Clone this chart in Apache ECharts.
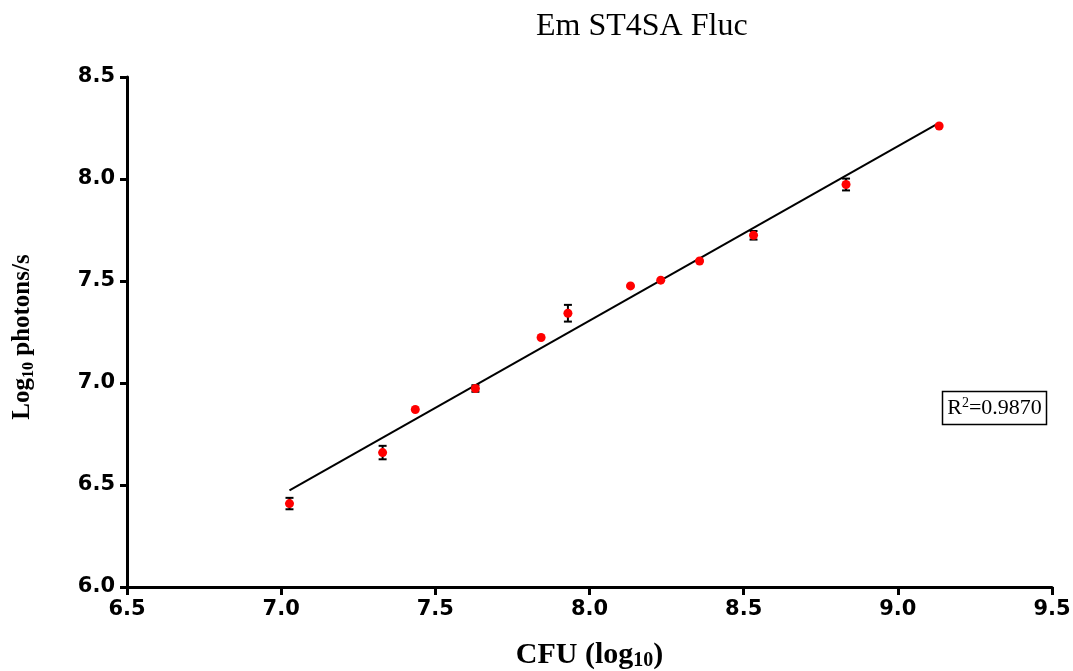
<!DOCTYPE html>
<html>
<head>
<meta charset="utf-8">
<script src="https://cdn.jsdelivr.net/npm/echarts@6/dist/echarts.min.js"></script>
<style>
  html, body { margin: 0; padding: 0; background: #fff; }
  #chart { width: 1073px; height: 671px; }
</style>
</head>
<body>
<div id="chart"></div>
<script>
// ---- Data ----
const titleText = 'Em ST4SA Fluc';
const xName = ['CFU (log', '10', ')'];
const yName = ['Log', '10', ' photons/s'];
const r2Label = ['R', '2', '=0.9870'];

const xTicks = [6.5, 7.0, 7.5, 8.0, 8.5, 9.0, 9.5];
const yTicks = [6.0, 6.5, 7.0, 7.5, 8.0, 8.5];

const cfuLog = [7.027, 7.329, 7.435, 7.630, 7.843, 7.930, 8.133, 8.231, 8.357, 8.532, 8.832, 9.134];
const photonsLog = [6.409, 6.659, 6.870, 6.973, 7.223, 7.342, 7.476, 7.504, 7.598, 7.724, 7.973, 8.260];
const photonsErr = [0.028, 0.033, 0, 0.016, 0, 0.041, 0, 0, 0, 0.021, 0.029, 0];

const fitX = [7.027, 9.134];
const fitY = [6.474, 8.275];

// ---- Chart ----
const chart = echarts.init(document.getElementById('chart'), null, { renderer: 'canvas' });

const serif = '"Liberation Serif", "Times New Roman", serif';
const sans = '"DejaVu Sans", "Liberation Sans", Arial, sans-serif';

const option = {
  animation: false,
  backgroundColor: '#ffffff',
  title: {
    text: titleText,
    left: 531,
    top: 6,
    textStyle: { fontFamily: serif, fontSize: 32, fontWeight: 'normal', color: '#000' }
  },
  grid: { left: 127, right: 21, top: 77, bottom: 84, containLabel: false, outerBoundsMode: 'none' },
  xAxis: {
    type: 'value',
    min: xTicks[0],
    max: xTicks[xTicks.length - 1],
    interval: 0.5,
    splitLine: { show: false },
    axisLine: { onZero: false, lineStyle: { color: '#000', width: 3 } },
    axisTick: { length: 8, lineStyle: { color: '#000', width: 3 } },
    axisLabel: {
      margin: 12,
      color: '#000',
      fontFamily: sans,
      fontWeight: 'bold',
      fontSize: 21,
      formatter: v => v.toFixed(1)
    },
    name: '{a|' + xName[0] + '}{s|' + xName[1] + '}{a|' + xName[2] + '}',
    nameLocation: 'middle',
    nameGap: 52,
    nameTextStyle: {
      rich: {
        a: { fontFamily: serif, fontWeight: 'bold', fontSize: 30, color: '#000', lineHeight: 32 },
        s: { fontFamily: serif, fontWeight: 'bold', fontSize: 20, color: '#000', verticalAlign: 'bottom', lineHeight: 20, padding: [11, 0, 0, 0] }
      }
    }
  },
  yAxis: {
    type: 'value',
    min: yTicks[0],
    max: yTicks[yTicks.length - 1],
    interval: 0.5,
    splitLine: { show: false },
    axisLine: { onZero: false, lineStyle: { color: '#000', width: 3 } },
    axisTick: { length: 7, lineStyle: { color: '#000', width: 3 } },
    axisLabel: {
      margin: 12,
      color: '#000',
      fontFamily: sans,
      fontWeight: 'bold',
      fontSize: 21,
      formatter: v => v.toFixed(1)
    },
    name: '{a|' + yName[0] + '}{s|' + yName[1] + '}{a|' + yName[2] + '}',
    nameLocation: 'middle',
    nameGap: 90,
    nameRotate: 90,
    nameTextStyle: {
      padding: [0, 10, 0, 0],
      rich: {
        a: { fontFamily: serif, fontWeight: 'bold', fontSize: 25, color: '#000', lineHeight: 28 },
        s: { fontFamily: serif, fontWeight: 'bold', fontSize: 16, color: '#000', verticalAlign: 'bottom', lineHeight: 16, padding: [8, 0, 0, 0] }
      }
    }
  },
  graphic: [
    {
      type: 'rect',
      shape: { x: 942.5, y: 391.5, width: 104, height: 33 },
      style: { fill: '#fff', stroke: '#000', lineWidth: 1.5 },
      z: 100
    },
    {
      type: 'text',
      x: 994.5,
      y: 408,
      z: 101,
      style: {
        text: '{a|' + r2Label[0] + '}{p|' + r2Label[1] + '}{a|' + r2Label[2] + '}',
        align: 'center',
        verticalAlign: 'middle',
        rich: {
          a: { fontFamily: serif, fontSize: 22, fill: '#000', lineHeight: 24 },
          p: { fontFamily: serif, fontSize: 14, fill: '#000', verticalAlign: 'top', lineHeight: 14, padding: [0, 0, 8, 0] }
        }
      }
    }
  ],
  series: [
    {
      type: 'line',
      data: fitX.map((x, i) => [x, fitY[i]]),
      symbol: 'none',
      lineStyle: { color: '#000', width: 2 },
      z: 2,
      silent: true
    },
    {
      type: 'custom',
      data: cfuLog.map((x, i) => [x, photonsLog[i] - photonsErr[i], photonsLog[i] + photonsErr[i]]),
      encode: { x: 0, y: [1, 2] },
      z: 3,
      renderItem: function (params, api) {
        const lo = api.coord([api.value(0), api.value(1)]);
        const hi = api.coord([api.value(0), api.value(2)]);
        if (Math.abs(hi[1] - lo[1]) < 0.5) return null;
        const w = 4;
        const st = { stroke: '#000', lineWidth: 2 };
        return {
          type: 'group',
          children: [
            { type: 'line', shape: { x1: lo[0], y1: lo[1], x2: hi[0], y2: hi[1] }, style: st },
            { type: 'line', shape: { x1: lo[0] - w, y1: lo[1], x2: lo[0] + w, y2: lo[1] }, style: st },
            { type: 'line', shape: { x1: hi[0] - w, y1: hi[1], x2: hi[0] + w, y2: hi[1] }, style: st }
          ]
        };
      }
    },
    {
      type: 'scatter',
      data: cfuLog.map((x, i) => [x, photonsLog[i]]),
      symbol: 'circle',
      symbolSize: 9,
      itemStyle: { color: '#ff0000', opacity: 1 },
      z: 4
    }
  ]
};

chart.setOption(option);
</script>
</body>
</html>
